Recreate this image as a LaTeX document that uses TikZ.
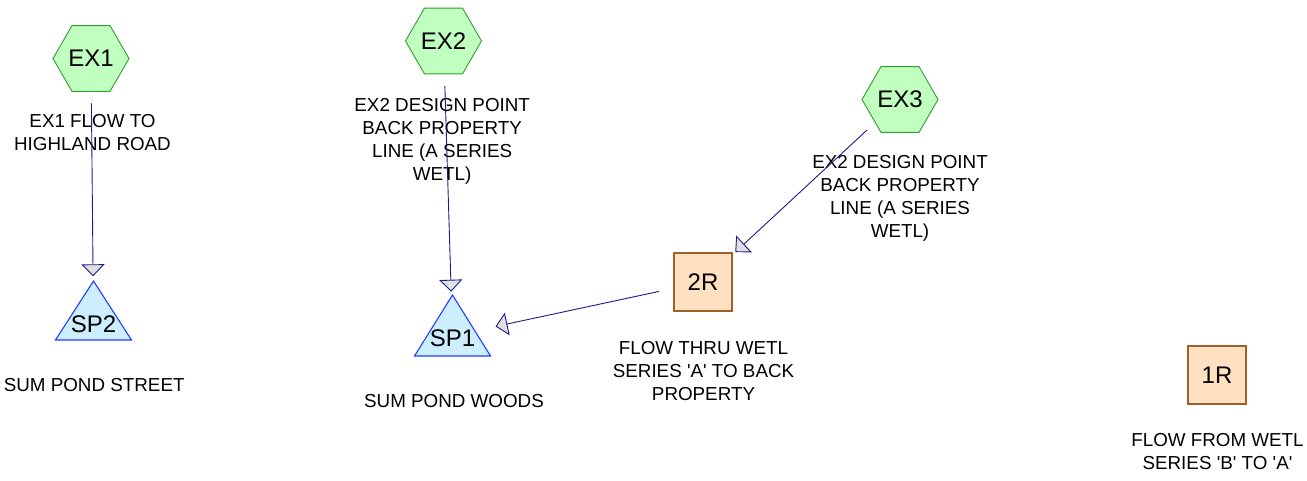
\documentclass[tikz,border=0pt]{standalone}
\usepackage{fontspec}
\setmainfont{Liberation Sans}
\usetikzlibrary{shapes.geometric,arrows.meta}

\definecolor{hexfill}{HTML}{C0FFC0}
\definecolor{hexline}{HTML}{2E9E2E}
\definecolor{pondfill}{HTML}{CCEEFF}
\definecolor{pondline}{HTML}{1F3FFF}
\definecolor{boxfill}{HTML}{FFE0C0}
\definecolor{boxline}{HTML}{A0602A}
\definecolor{flowline}{HTML}{1C1C8C}
\definecolor{tipfill}{HTML}{E0E0E0}

\newcommand{\sq}{\textquotesingle}

\tikzset{
  hexnode/.style={regular polygon, regular polygon sides=6, minimum size=76pt,
    inner sep=0pt, draw=hexline, fill=hexfill, line width=0.9pt,
    font=\fontsize{24}{28}\selectfont},
  reachnode/.style={rectangle, minimum size=58pt, inner sep=0pt,
    draw=boxline, fill=boxfill, line width=1.2pt,
    font=\fontsize{24}{28}\selectfont},
  pondshape/.style={draw=pondline, fill=pondfill, line width=1.1pt, line join=miter},
  pondtext/.style={anchor=base, inner sep=0pt, font=\fontsize{24}{28}\selectfont},
  caption/.style={anchor=north, inner sep=0pt, align=center,
    font=\fontsize{18.8}{23}\selectfont},
  flow/.style={draw=flowline, line width=0.9pt,
    -{Triangle[length=12pt,width=23pt,fill=tipfill]},
    shorten <=45pt, shorten >=44pt}
}

\begin{document}
\begin{tikzpicture}[x=1pt,y=-1pt]
\useasboundingbox (0,0) rectangle (1307,481);

% inflow hydrographs
\node[hexnode] (ex1) at (91,58.5) {EX1};
\node[hexnode] (ex2) at (443.5,41) {EX2};
\node[hexnode] (ex3) at (900,99.5) {EX3};

% reaches
\node[reachnode] (r2) at (703,282) {2R};
\node[reachnode] (r1) at (1217,375) {1R};

% ponds (triangles), centroid coordinates used by the connectors
\coordinate (sp2) at (93.5,320.3);
\coordinate (sp1) at (452.5,335.7);
\path[pondshape] (93.5,281) -- (131.5,340) -- (55.5,340) -- cycle;
\path[pondshape] (452.5,295) -- (490.5,356) -- (414.5,356) -- cycle;
\node[pondtext] (sp2t) at (93.5,332) {SP2};
\node[pondtext] (sp1t) at (452.5,346.7) {SP1};

% captions (first baseline minus cap height)
\node[caption] (ex1c) at (92.5,114.3) {EX1 FLOW TO\\HIGHLAND ROAD};
\node[caption] (ex2c) at (442.2,98) {EX2 DESIGN POINT\\BACK PROPERTY\\LINE (A SERIES\\WETL)};
\node[caption] (ex3c) at (900,155.3) {EX2 DESIGN POINT\\BACK PROPERTY\\LINE (A SERIES\\WETL)};
\node[caption] (r2c) at (703.5,341.5) {FLOW THRU WETL\\SERIES \sq A\sq{} TO BACK\\PROPERTY};
\node[caption] (r1c) at (1217.5,433.3) {FLOW FROM WETL\\SERIES \sq B\sq{} TO \sq A\sq};
\node[caption] (sp2c) at (94.2,378.5) {SUM POND STREET};
\node[caption] (sp1c) at (454,394.5) {SUM POND WOODS};

% routing connectors
\draw[flow] (ex1.center) -- (sp2);
\draw[flow] (ex2.center) -- (sp1);
\draw[flow] (ex3.center) -- (r2.center);
\draw[flow] (r2.center) -- (sp1);
\end{tikzpicture}
\end{document}
